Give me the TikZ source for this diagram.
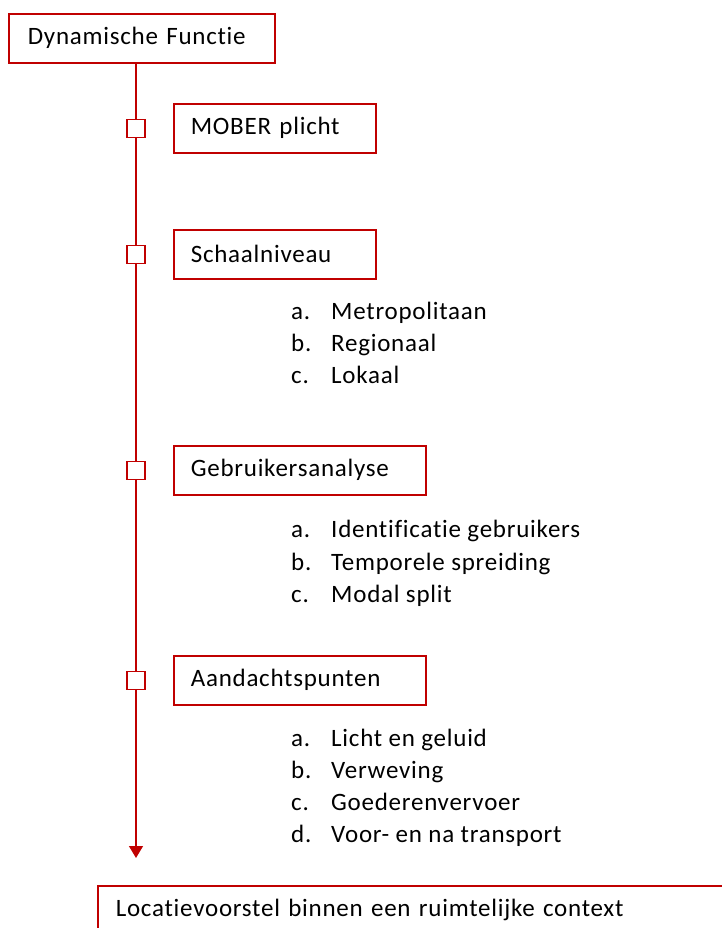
\documentclass[tikz,border=0pt]{standalone}
\usepackage{fontspec}
\setmainfont{Carlito}[Ligatures=NoCommon, LetterSpace=3]
\usetikzlibrary{arrows.meta}
\definecolor{dred}{RGB}{192,0,0}
\tikzset{
  stepbox/.style={draw=dred, line width=1.6pt, anchor=north west, align=left,
    minimum height=49pt, inner xsep=17pt, inner ysep=0pt, font=\fontsize{25}{29}\selectfont},
  marker/.style={draw=dred, line width=1.5pt, fill=white, minimum size=18pt, inner sep=0pt},
  item/.style={anchor=base west, inner sep=0pt, font=\fontsize{25}{29}\selectfont}
}
\begin{document}
\begin{tikzpicture}[x=1pt, y=-1pt]
  \clip (0,0) rectangle (722,928);
  \useasboundingbox (0,0) rectangle (722,928);

  \node[stepbox, text width=228pt, inner xsep=19pt] (top) at (8,13) {Dynamische Functie};
  \coordinate (tip) at (136,858);
  \draw[dred, line width=1.2pt, -{Triangle[width=14pt,length=12pt]}] (top.south -| tip) -- (tip);

  \node[stepbox, text width=168pt] (mober) at (173,103) {MOBER plicht};
  \node[stepbox, text width=168pt] (schaal) at (173,229) {Schaalniveau};
  \node[stepbox, text width=218pt] (gebr) at (173,445) {Gebruikersanalyse};
  \node[stepbox, text width=218pt] (aand) at (173,655) {Aandachtspunten};

  \foreach \n in {mober, schaal, gebr, aand}
    \node[marker] (m-\n) at (\n.west -| tip) {};

  % sub-items
  \foreach \l/\t [count=\i] in {a./Metropolitaan, b./Regionaal, c./Lokaal} {
    \node[item] (sl\i) at (291, 287+32*\i) {\l};
    \node[item] (st\i) at (331, 287+32*\i) {\t};
  }
  \foreach \l/\t [count=\i] in {a./Identificatie gebruikers, b./Temporele spreiding, c./Modal split} {
    \node[item] (gl\i) at (291, 505+32.5*\i) {\l};
    \node[item] (gt\i) at (331, 505+32.5*\i) {\t};
  }
  \foreach \l/\t [count=\i] in {a./Licht en geluid, b./Verweving, c./Goederenvervoer, d./Voor- en na transport} {
    \node[item] (al\i) at (291, 714+32*\i) {\l};
    \node[item] (at\i) at (331, 714+32*\i) {\t};
  }

  \node[stepbox, text width=640pt, inner xsep=18pt] (loc) at (97,885) {Locatievoorstel binnen een ruimtelijke context};
\end{tikzpicture}
\end{document}
